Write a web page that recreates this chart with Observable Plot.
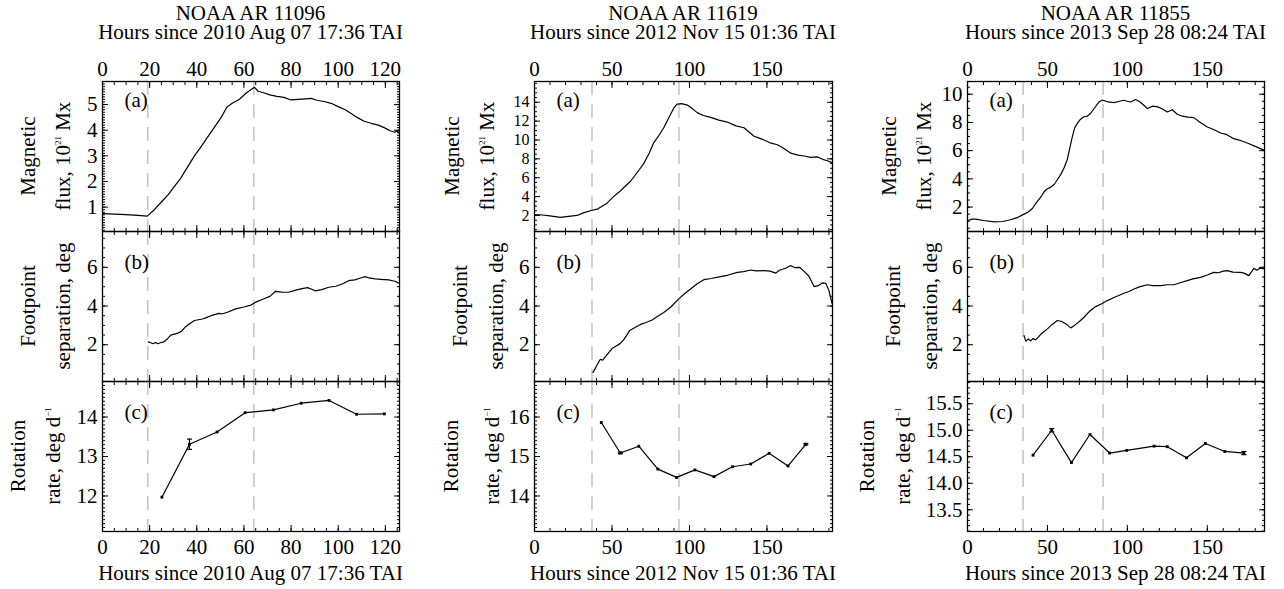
<!DOCTYPE html>
<html><head><meta charset="utf-8">
<script src="https://cdn.jsdelivr.net/npm/d3@7"></script>
<script src="https://cdn.jsdelivr.net/npm/@observablehq/plot@0.6"></script>
<style>
body{margin:0;background:#fff;}
#chart{position:relative;width:1284px;height:589px;font-family:"Liberation Serif",Tinos,"Times New Roman","DejaVu Serif",serif;color:#000;overflow:hidden;}
#chart svg{position:absolute;max-width:none;}
.t{position:absolute;white-space:nowrap;font-size:21px;line-height:19px;text-align:center;transform:translate(-50%,-50%);}
.r{position:absolute;white-space:nowrap;font-size:21px;line-height:1;transform:translate(-50%,-50%) rotate(-90deg);}
.t sup,.r sup{font-size:9px;vertical-align:0;position:relative;top:-9px;}
</style></head><body><div id="chart"></div><script>
// ---------- data ----------
const regions = ["NOAA AR 11096", "NOAA AR 11619", "NOAA AR 11855"];
const timeLabels = ["Hours since 2010 Aug 07 17:36 TAI", "Hours since 2012 Nov 15 01:36 TAI", "Hours since 2013 Sep 28 08:24 TAI"];
const eventHours = [[19.2, 64.2], [37.1, 93.2], [34.8, 84.8]];
const panelLetters = ["(a)", "(b)", "(c)"];
const yLabels = [["Magnetic", "flux, 10<sup>21</sup> Mx"], ["Footpoint", "separation, deg"], ["Rotation", "rate, deg d<sup>&minus;1</sup>"]];

// AR 11096
const flux11096 = [[0,0.75],[5,0.73],[10,0.71],[15,0.68],[19,0.65],[22,0.9],[25,1.2],[28,1.5],[30,1.75],[33,2.1],[36,2.55],[39,3.0],[41.4,3.3],[44,3.65],[47,4.05],[50,4.45],[52.8,4.9],[55,5.05],[58,5.2],[61,5.45],[63.5,5.62],[64.5,5.67],[66,5.52],[68,5.47],[71,5.38],[74,5.32],[77,5.28],[80,5.18],[83,5.2],[86,5.22],[88.5,5.24],[91,5.17],[94,5.12],[97,5.05],[100,4.92],[103,4.8],[105.5,4.65],[108,4.5],[111,4.35],[114,4.27],[117,4.2],[119.5,4.1],[122,3.98],[124,3.92],[125,3.98],[126,3.88]];
const sep11096 = [[19.5,2.15],[20.5,2.1],[21.5,2.05],[22.5,2.12],[23.5,2.05],[24.5,2.1],[26,2.15],[27.5,2.3],[29,2.5],[30.5,2.55],[32,2.6],[33.5,2.7],[35,2.9],[36.8,3.07],[39,3.25],[42.4,3.33],[44,3.4],[46,3.5],[49.4,3.62],[51,3.6],[53,3.68],[56.5,3.85],[60,3.95],[63,4.05],[65,4.2],[68,4.35],[71,4.5],[73.4,4.76],[76,4.72],[79,4.71],[82,4.82],[84.7,4.9],[87,4.95],[89,4.85],[90.3,4.78],[93,4.85],[96,4.97],[99,5.02],[102,5.15],[104.4,5.31],[107,5.35],[109.5,5.45],[111.5,5.52],[113,5.45],[115.7,5.4],[118,5.38],[121.4,5.35],[124,5.28],[126,5.17]];
const rotHours11096 = [25.2, 36.9, 48.6, 60.5, 72.5, 84.3, 96.1, 107.8, 119.6];
const rot11096 = [11.97, 13.31, 13.62, 14.11, 14.18, 14.35, 14.42, 14.07, 14.08];
const rotErr11096 = [0.01, 0.13, 0.01, 0.01, 0.01, 0.01, 0.01, 0.01, 0.01];

// AR 11619
const flux11619 = [[0,2.1],[5,2.05],[10,1.95],[16.6,1.8],[22,1.9],[27.4,2.0],[32,2.3],[36,2.5],[41,2.7],[46.8,3.3],[51,4.0],[55.4,4.6],[58.5,5.1],[61.9,5.6],[66,6.5],[70.5,7.5],[74,8.6],[76.9,9.7],[80,10.4],[83.4,11.3],[86.5,12.3],[89.9,13.4],[92,13.8],[95,13.85],[98.6,13.7],[102,13.3],[105,12.9],[109,12.6],[113.7,12.4],[119,12.1],[124.4,11.9],[130,11.5],[135.2,11.3],[138,10.9],[141.7,10.4],[145,10.2],[148.1,10.0],[152,9.7],[156.8,9.5],[161,9.1],[165.4,8.6],[170,8.4],[174,8.3],[178,8.15],[182.7,8.2],[186,7.95],[189,7.8],[192,7.6]];
const sep11619 = [[37.8,0.57],[40,0.9],[42.5,1.25],[44,1.2],[47,1.5],[50,1.8],[53,1.95],[55.4,2.07],[58,2.3],[61.4,2.73],[64,2.85],[68.4,3.05],[72,3.15],[75.9,3.28],[80,3.5],[83.4,3.67],[88,3.95],[93.1,4.37],[97,4.65],[100.7,4.88],[105,5.15],[109.3,5.36],[114,5.42],[120,5.52],[125,5.6],[130.9,5.74],[135,5.78],[139.5,5.86],[143,5.82],[148.1,5.83],[152,5.8],[155.7,5.7],[158,5.85],[162,5.95],[165.4,6.09],[168,5.98],[171,6.0],[174,5.79],[177,5.55],[180.5,5.0],[183,5.05],[186,5.2],[188,5.17],[190,4.8],[192,4.14]];
const rotHours11619 = [43.1, 55.4, 67.3, 79.6, 91.7, 103.5, 115.8, 127.7, 139.5, 151.4, 163.6, 175.1];
const rot11619 = [15.86, 15.09, 15.26, 14.68, 14.47, 14.66, 14.49, 14.74, 14.81, 15.08, 14.76, 15.31];
const rotErr11619 = [0.01, 0.02, 0.01, 0.01, 0.01, 0.01, 0.01, 0.01, 0.01, 0.01, 0.01, 0.02];

// AR 11855
const flux11855 = [[0,1.05],[3,1.15],[5.2,1.15],[10,1.05],[16.7,0.95],[22,0.98],[27,1.1],[31,1.25],[35.4,1.5],[38,1.65],[40.6,1.9],[43,2.3],[45.8,2.7],[48,3.1],[50,3.3],[52,3.4],[54.2,3.6],[56,3.9],[58.3,4.3],[60.5,4.8],[62.5,5.4],[64,6.2],[65.6,7.0],[67,7.6],[68.8,7.95],[70.5,8.2],[72.9,8.4],[75,8.45],[77.1,8.65],[79,8.95],[82.3,9.45],[84,9.58],[85.4,9.55],[88,9.45],[91.7,9.4],[95,9.5],[97.9,9.57],[100,9.5],[102,9.45],[105.2,9.62],[108,9.45],[110.5,9.2],[112.5,8.98],[115.6,9.15],[119,9.1],[122,8.95],[125,8.74],[128.1,8.9],[131,8.6],[134.4,8.44],[138,8.38],[141.6,8.34],[145,8.05],[150,7.68],[154,7.5],[158.3,7.25],[162,7.15],[166.6,6.85],[170,6.75],[175,6.54],[180,6.3],[185.8,6.02]];
const sep11855 = [[35.4,2.47],[36,2.3],[36.5,2.18],[38,2.3],[39.5,2.2],[41,2.32],[42.5,2.25],[43.8,2.35],[46,2.55],[50,2.82],[53,3.05],[56.2,3.25],[59,3.2],[62,3.05],[64.6,2.87],[67,3.0],[70,3.2],[72.9,3.42],[76,3.7],[80.2,3.97],[84,4.12],[87.5,4.28],[92,4.45],[97.9,4.66],[101,4.75],[104.2,4.88],[108,5.0],[112.5,5.1],[116,5.05],[120.8,5.05],[125,5.1],[129.2,5.1],[133,5.2],[137.5,5.31],[141,5.4],[145.8,5.48],[150,5.6],[154.1,5.74],[157,5.72],[160,5.8],[162.5,5.83],[166,5.75],[170.8,5.74],[173,5.7],[176,5.57],[178,5.8],[179.1,5.95],[181,5.85],[183,5.95],[185.8,5.92]];
const rotHours11855 = [41, 52.7, 65, 76.6, 88.9, 99.6, 116.7, 125, 137, 148.8, 161, 172.9];
const rot11855 = [14.53, 15.0, 14.39, 14.92, 14.57, 14.62, 14.7, 14.69, 14.48, 14.75, 14.6, 14.57];
const rotErr11855 = [0.01, 0.03, 0.01, 0.01, 0.01, 0.01, 0.01, 0.01, 0.01, 0.01, 0.01, 0.03];

// tick labels / axis settings
const xTicks = [[0,20,40,60,80,100,120], [0,50,100,150], [0,50,100,150]];
const xMinorStep = [5, 10, 10];
const xDomains = [[0,126], [0,192.3], [0,185.8]];
const yTicks = [
  [[1,2,3,4,5], [2,4,6], [12,13,14]],
  [[2,4,6,8,10,12,14], [2,4,6], [14,15,16]],
  [[2,4,6,8,10], [2,4,6], [13.5,14.0,14.5,15.0,15.5]]
];
const yMinorStep = [[0.1,0.5,0.1],[0.5,0.5,0.1],[0.5,0.5,0.1]];
const yDomains = [
  [[0.05,5.9],[0.1,7.85],[11.1,14.9]],
  [[0.3,16.2],[0.1,7.85],[13.1,16.9]],
  [[0.27,10.9],[0.1,7.85],[13.09,15.92]]
];
const yFormats = [[null,null,null],[null,null,null],[null,null,".1f"]];

// ---------- layout ----------
const frameLeft = [102, 534, 967];
const frameWidth = [297, 298, 297];
const rowTop = [81, 231, 381];
const rowH = 150;
const letterDy = [19, 31, 31];
const yTickFont = [[21,21,21],[16,21,21],[21,21,21]];
const yLabelX = [
  [[28,63],[28,63],[18,53]],
  [[452,487],[460,496],[451,492]],
  [[889,924],[893,930],[867,903]]
];
const fontStack = "'Liberation Serif', Tinos, 'Times New Roman', 'DejaVu Serif', serif";

const chart = document.getElementById("chart");
const series = [
  [flux11096, sep11096, rotHours11096.map((h,i)=>({h, v: rot11096[i], e: rotErr11096[i]}))],
  [flux11619, sep11619, rotHours11619.map((h,i)=>({h, v: rot11619[i], e: rotErr11619[i]}))],
  [flux11855, sep11855, rotHours11855.map((h,i)=>({h, v: rot11855[i], e: rotErr11855[i]}))]
];
const capSymbol = {draw(ctx){ ctx.moveTo(-2.5,0); ctx.lineTo(2.5,0); }};

function minor(domain, step) {
  const a = Math.ceil(domain[0]/step - 1e-9), b = Math.floor(domain[1]/step + 1e-9);
  return d3.range(a, b + 1).map(k => +(k*step).toFixed(6));
}

for (let c = 0; c < 3; c++) {
  for (let r = 0; r < 3; r++) {
    const mL = 48, mR = 12, mT = r === 0 ? 40 : 8, mB = r === 2 ? 42 : 8;
    const xMin = minor(xDomains[c], xMinorStep[c]);
    const yMin = minor(yDomains[c][r], yMinorStep[c][r]);
    const yMaj = yTicks[c][r];
    const fmt = yFormats[c][r] ? d3.format(yFormats[c][r]) : d3.format("d");
    const marks = [
      Plot.ruleX(eventHours[c], {stroke: "#c6c6c6", strokeWidth: 1.6, strokeDasharray: "14,9"}),
      Plot.axisX(xMin, {anchor: "bottom", tickSize: -3, fill: "none", label: null}),
      Plot.axisX(xMin, {anchor: "top", tickSize: -3, fill: "none", label: null}),
      Plot.axisX(xTicks[c], {anchor: "bottom", tickSize: -6, fill: "none", label: null}),
      Plot.axisX(xTicks[c], {anchor: "top", tickSize: -6, fill: "none", label: null}),
      Plot.axisY(yMin, {anchor: "left", tickSize: -3, fill: "none", label: null}),
      Plot.axisY(yMin, {anchor: "right", tickSize: -3, fill: "none", label: null}),
      Plot.axisY(yMaj, {anchor: "left", tickSize: -6, fill: "none", label: null}),
      Plot.axisY(yMaj, {anchor: "right", tickSize: -6, fill: "none", label: null}),
      Plot.axisY(yMaj, {anchor: "left", tickSize: 0, tickPadding: 5, label: null, tickFormat: fmt, fontFamily: fontStack, fontSize: yTickFont[c][r]})
    ];
    if (r === 0) marks.push(Plot.axisX(xTicks[c], {anchor: "top", tickSize: 0, tickPadding: 6, label: null, tickFormat: d3.format("d"), fontFamily: fontStack}));
    if (r === 2) marks.push(Plot.axisX(xTicks[c], {anchor: "bottom", tickSize: 0, tickPadding: 8, label: null, tickFormat: d3.format("d"), fontFamily: fontStack}));
    if (r < 2) {
      marks.push(Plot.line(series[c][r], {x: d => d[0], y: d => d[1], stroke: "black", strokeWidth: 1.2}));
    } else {
      const rot = series[c][r];
      const withErr = rot.filter(d => d.e > 0.015);
      marks.push(
        Plot.line(rot, {x: "h", y: "v", stroke: "black", strokeWidth: 1.2}),
        Plot.ruleX(withErr, {x: "h", y1: d => d.v - d.e, y2: d => d.v + d.e, stroke: "black", strokeWidth: 1.2}),
        Plot.dot(withErr, {x: "h", y: d => d.v - d.e, symbol: capSymbol, stroke: "black", fill: "none", strokeWidth: 1.2}),
        Plot.dot(withErr, {x: "h", y: d => d.v + d.e, symbol: capSymbol, stroke: "black", fill: "none", strokeWidth: 1.2}),
        Plot.dot(rot, {x: "h", y: "v", symbol: "square", r: 1.6, fill: "black"})
      );
    }
    marks.push(
      Plot.text([panelLetters[r]], {frameAnchor: "top-left", dx: 22, dy: letterDy[r], textAnchor: "start", lineAnchor: "middle", fontSize: 21, fontFamily: fontStack}),
      Plot.frame({stroke: "black", strokeWidth: 1.3})
    );
    const svg = Plot.plot({
      width: mL + frameWidth[c] + mR,
      height: mT + rowH + mB,
      marginLeft: mL, marginRight: mR, marginTop: mT, marginBottom: mB,
      x: {domain: xDomains[c]},
      y: {domain: yDomains[c][r]},
      style: {fontFamily: fontStack, fontSize: "21px", background: "transparent", overflow: "visible", color: "black"},
      marks
    });
    svg.style.left = (frameLeft[c] - mL) + "px";
    svg.style.top = (rowTop[r] - mT) + "px";
    chart.appendChild(svg);

    // y-axis labels (two lines, rotated)
    const cy = rowTop[r] + rowH / 2;
    yLabels[r].forEach((txt, k) => {
      const d = document.createElement("div");
      d.className = "r";
      d.innerHTML = txt;
      d.style.left = yLabelX[c][r][k] + "px";
      d.style.top = cy + "px";
      chart.appendChild(d);
    });
  }
  const cx = frameLeft[c] + frameWidth[c] / 2;
  // two-line column title (one text block)
  const head = document.createElement("div");
  head.className = "t";
  head.appendChild(document.createTextNode(regions[c]));
  head.appendChild(document.createElement("br"));
  head.appendChild(document.createTextNode(timeLabels[c]));
  head.style.left = cx + "px";
  head.style.top = "22.5px";
  chart.appendChild(head);
  const foot = document.createElement("div");
  foot.className = "t";
  foot.textContent = timeLabels[c];
  foot.style.left = cx + "px";
  foot.style.top = "573px";
  chart.appendChild(foot);
}
</script></body></html>
